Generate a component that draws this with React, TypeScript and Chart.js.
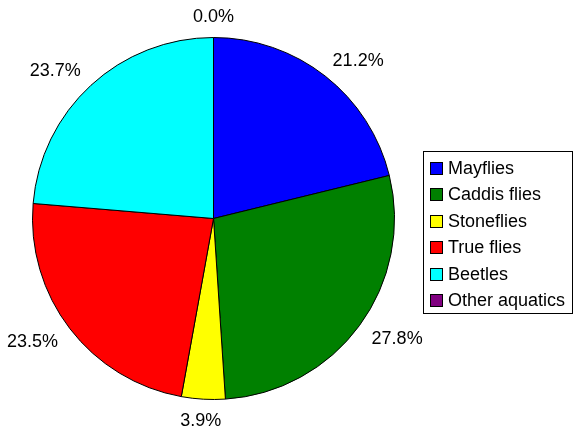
import React, { useEffect, useRef } from "react";
import { Chart, registerables } from "chart.js";

Chart.register(...registerables);

const categories = ["Mayflies", "Caddis flies", "Stoneflies", "True flies", "Beetles", "Other aquatics"];
const percentages = [21.2, 27.8, 3.9, 23.5, 23.7, 0.0];
const colors = ["#0000FF", "#008000", "#FFFF00", "#FF0000", "#00FFFF", "#800080"];

const FONT = "18px 'Liberation Sans', Arial, sans-serif";

const labelPlugin = {
  id: "pieLabels",
  afterDatasetsDraw(chart: any) {
    const ctx = chart.ctx;
    const meta = chart.getDatasetMeta(0);
    const data = chart.data.datasets[0].data as number[];
    const total = data.reduce((a, b) => a + b, 0);
    ctx.save();
    ctx.font = FONT;
    ctx.fillStyle = "#000";
    ctx.textAlign = "center";
    ctx.textBaseline = "middle";
    meta.data.forEach((arc: any, i: number) => {
      const { x, y, startAngle, endAngle, outerRadius } = arc.getProps(
        ["x", "y", "startAngle", "endAngle", "outerRadius"],
        true
      );
      const mid = (startAngle + endAngle) / 2;
      const dx = Math.cos(mid);
      const dy = Math.sin(mid);
      const text = ((data[i] / total) * 100).toFixed(1) + "%";
      const w = ctx.measureText(text).width;
      const h = 12;
      const r = outerRadius + 15;
      const fx = Math.sign(dx) * Math.min(1, Math.abs(dx) * 1.5);
      const cx = x + dx * r + (fx * w) / 2;
      const cy = y + dy * r + (dy * h) / 2;
      ctx.fillText(text, cx, cy + 1);
    });
    ctx.restore();
  },
};

const legendPlugin = {
  id: "boxLegend",
  afterDraw(chart: any) {
    const ctx = chart.ctx;
    const labels = chart.data.labels as string[];
    const bg = chart.data.datasets[0].backgroundColor as string[];
    const left = 423;
    const top = 151;
    const width = 149;
    const height = 162;
    ctx.save();
    ctx.strokeStyle = "#000";
    ctx.lineWidth = 1;
    ctx.strokeRect(left + 0.5, top + 0.5, width, height);
    ctx.font = FONT;
    ctx.textAlign = "left";
    ctx.textBaseline = "middle";
    labels.forEach((lab, i) => {
      const cy = top + 17 + i * 26.4;
      ctx.fillStyle = bg[i];
      ctx.fillRect(left + 7, Math.round(cy - 6), 13, 13);
      ctx.strokeStyle = "#000";
      ctx.strokeRect(left + 7.5, Math.round(cy - 6) + 0.5, 12, 12);
      ctx.fillStyle = "#000";
      ctx.fillText(lab, left + 25, cy + 1);
    });
    ctx.restore();
  },
};

export default function App() {
  const ref = useRef<HTMLCanvasElement>(null);
  useEffect(() => {
    if (!ref.current) return;
    const chart = new Chart(ref.current, {
      type: "pie",
      data: {
        labels: categories,
        datasets: [
          {
            data: percentages,
            backgroundColor: colors,
            borderColor: "#000",
            borderWidth: 1,
          },
        ],
      },
      options: {
        animation: false,
        responsive: false,
        layout: { padding: { left: 32, right: 183, top: 37, bottom: 36 } },
        plugins: {
          legend: { display: false },
          tooltip: { enabled: false },
        },
      },
      plugins: [labelPlugin, legendPlugin],
    });
    return () => chart.destroy();
  }, []);
  return (
    <div style={{ position: "fixed", left: 0, top: 0, width: 578, height: 436, background: "#fff" }}>
      <canvas ref={ref} width={578} height={436} />
    </div>
  );
}
